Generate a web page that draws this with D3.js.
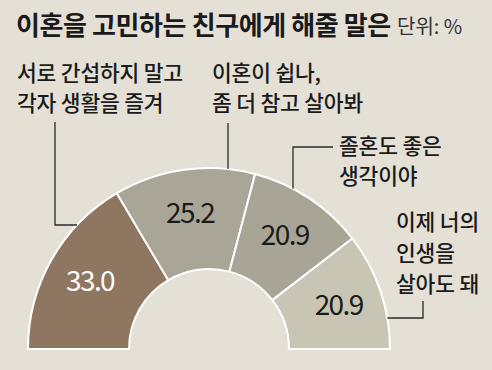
<!DOCTYPE html>
<html><head><meta charset="utf-8">
<script src="https://cdn.jsdelivr.net/npm/d3@7"></script>
<style>
html,body{margin:0;padding:0;background:#e4e0d6;}
svg{display:block;}
text{font-family:"Noto Sans CJK KR","Noto Sans",sans-serif;}
</style></head>
<body>
<svg id="chart" width="492" height="370"></svg>
<script>
const title = "이혼을 고민하는 친구에게 해줄 말은";
const unit = "단위: %";
const categories = [
  ["서로 간섭하지 말고", "각자 생활을 즐겨"],
  ["이혼이 쉽나,", "좀 더 참고 살아봐"],
  ["졸혼도 좋은", "생각이야"],
  ["이제 너의", "인생을", "살아도 돼"]
];
const values = [33.0, 25.2, 20.9, 20.9];
const colors = ["#8e7660", "#a9a697", "#a8a596", "#c9c5b5"];
const valueColors = ["#ffffff", "#1a1a1a", "#1a1a1a", "#1a1a1a"];

const svg = d3.select("#chart");
svg.append("rect").attr("width",492).attr("height",370).attr("fill","#e4e0d6");

svg.append("text").attr("x",16).attr("y",35)
  .attr("font-size",26).attr("font-weight",700).attr("letter-spacing",-0.4)
  .attr("fill","#1a1a1a").text(title);
svg.append("text").attr("x",397).attr("y",34)
  .attr("font-size",20).attr("fill","#333").text(unit);

const cx = 209, cy = 349, R = 181, r = 80;
const g = svg.append("g").attr("transform",`translate(${cx},${cy})`);

const pie = d3.pie().sort(null).value(d=>d)
  .startAngle(-Math.PI/2).endAngle(Math.PI/2);
const arcs = pie(values);
const arc = d3.arc().innerRadius(r).outerRadius(R);

g.selectAll("path.seg").data(arcs).join("path").attr("class","seg")
  .attr("d",arc).attr("fill",(d,i)=>colors[i])
  .attr("stroke","#ffffff").attr("stroke-width",2).attr("stroke-linejoin","round");

const labelArc = d3.arc().innerRadius(137).outerRadius(137);
g.selectAll("text.val").data(arcs).join("text").attr("class","val")
  .attr("transform",d=>{const c=labelArc.centroid(d);return `translate(${c[0]},${c[1]})`;})
  .attr("text-anchor","middle").attr("dy","0.36em")
  .attr("font-family","'Liberation Sans', Arial, sans-serif")
  .attr("font-size",28).attr("letter-spacing",-1.6)
  .attr("fill",(d,i)=>valueColors[i])
  .text(d=>d.data.toFixed(1));

// category labels
const labelPos = [[17,81],[212,81],[339,154],[396,230]];
const lineH = [30,30,30,31];
categories.forEach((lines,i)=>{
  const t = svg.append("text").attr("x",labelPos[i][0]).attr("y",labelPos[i][1])
    .attr("font-size",21.5).attr("font-weight",500).attr("letter-spacing",-0.2).attr("fill","#1a1a1a");
  lines.forEach((s,j)=>{
    t.append("tspan").attr("x",labelPos[i][0]).attr("y",labelPos[i][1]+j*lineH[i]).text(s);
  });
});

function arcY(x){
  const dx = x - cx;
  return cy - Math.sqrt(Math.max(0,R*R - dx*dx));
}
function arcX(y){
  const dy = cy - y;
  return cx + Math.sqrt(Math.max(0,R*R - dy*dy));
}
const leaders = [
  [[55,122],[55,225],[2*cx-arcX(225),225]],
  [[228,123],[228,arcY(228)]],
  [[333,147],[293,147],[293,arcY(293)]],
  [[423,301],[423,318],[arcX(318),318]]
];
const line = d3.line();
svg.selectAll("path.leader").data(leaders).join("path").attr("class","leader")
  .attr("d",line).attr("fill","none").attr("stroke","#2a2a2a").attr("stroke-width",1.3);
</script>
</body></html>
